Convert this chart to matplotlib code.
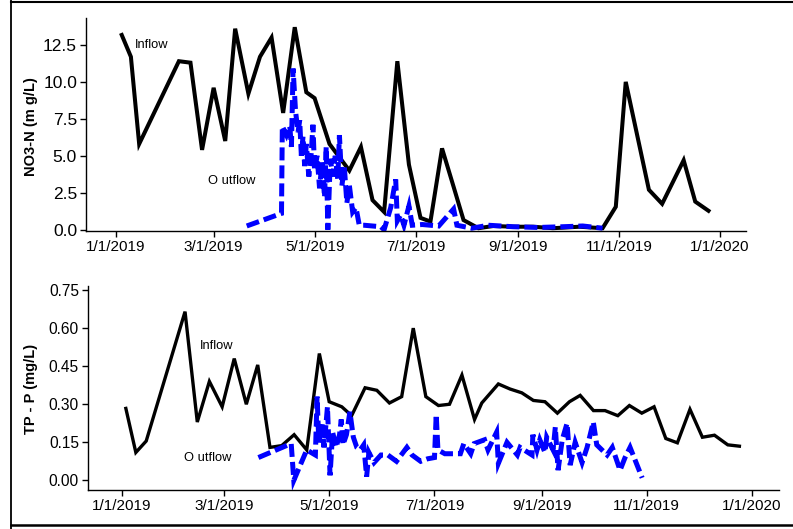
import numpy as np
import pandas as pd
import matplotlib
matplotlib.use("Agg")
import matplotlib.pyplot as plt
from matplotlib.lines import Line2D

# ---------------- data ----------------
start = pd.Timestamp("2019-01-01")

tick_dates = ["2019-01-01", "2019-03-01", "2019-05-01", "2019-07-01",
              "2019-09-01", "2019-11-01", "2020-01-01"]
tick_labels = ["1/1/2019", "3/1/2019", "5/1/2019", "7/1/2019",
               "9/1/2019", "11/1/2019", "1/1/2020"]

# NO3-N inflow (days since 1/1/2019, mg/L)
no3_in_days = [3, 9, 14, 38, 45, 52, 59, 66, 72, 80, 87, 94, 101, 108, 115, 120,
               129, 141, 148, 155, 162, 170, 177, 184, 190, 197, 204, 210, 219,
               228, 240, 252, 264, 280, 294, 302, 308, 322, 330, 343, 350, 359]
no3_in_vals = [13.3, 11.7, 5.8, 11.4, 11.3, 5.4, 9.6, 6.0, 13.6, 9.2, 11.7, 13.0,
               7.9, 13.7, 9.3, 8.9, 5.8, 4.0, 5.6, 2.0, 1.2, 11.4, 4.4, 0.8, 0.55,
               5.5, 2.9, 0.65, 0.1, 0.25, 0.2, 0.2, 0.1, 0.2, 0.1, 1.55, 10.0, 2.7,
               1.75, 4.7, 1.9, 1.2]

# NO3-N outflow
no3_out_days = [79, 100, 100.5, 103, 105, 106, 107, 108.5, 110, 111, 112, 113, 114,
                115, 116.5, 118, 119, 120, 121.5, 123, 124.5, 126, 127, 128, 129.5,
                131, 132.5, 134, 135, 136.5, 138, 139.5, 141, 143, 145, 147, 150,
                155, 160, 162, 166, 169, 170, 172, 174, 177, 179, 185, 195, 204,
                206, 215, 225, 240, 255, 270, 282, 294]
no3_out_vals = [0.25, 1.1, 7.0, 6.4, 7.0, 5.6, 10.9, 8.0, 6.6, 7.4, 5.0, 6.3, 4.3,
                5.8, 3.6, 5.2, 7.1, 4.0, 5.0, 2.8, 4.6, 2.2, 5.6, 0.0, 4.8,
                3.6, 5.0, 3.4, 6.4, 3.0, 4.2, 1.8, 3.0, 1.2, 1.5, 0.3, 0.3,
                0.25, 0.2, 0.0, 1.5, 3.4, 0.6, 1.0, 0.3, 1.6, 0.3, 0.35, 0.25, 1.4,
                0.3, 0.1, 0.3, 0.2, 0.15, 0.2, 0.25, 0.1]

# TP-P inflow
tp_in_days = [2, 8, 14, 36.5, 43.6, 50.6, 58, 65, 72, 78.6, 85.7, 92.5, 99.7, 107,
              114.3, 120, 127.3, 133, 140.8, 147.6, 154.9, 162, 168.7, 176, 183.3,
              189.7, 196.9, 204.2, 208.4, 218, 224.8, 231.6, 238.3, 245, 252.2,
              259.2, 265.4, 273.1, 279.8, 287.2, 293.9, 301.1, 308.2, 315, 321.7,
              329, 336.2, 343.2, 350.9, 358.6]
tp_in_vals = [0.29, 0.11, 0.155, 0.665, 0.23, 0.39, 0.29, 0.48, 0.30, 0.455, 0.13,
              0.137, 0.18, 0.12, 0.50, 0.31, 0.29, 0.255, 0.365, 0.355, 0.305, 0.33,
              0.60, 0.33, 0.295, 0.30, 0.415, 0.24, 0.305, 0.38, 0.36, 0.345, 0.315,
              0.31, 0.265, 0.31, 0.335, 0.275, 0.275, 0.255, 0.295, 0.265, 0.29,
              0.165, 0.148, 0.28, 0.17, 0.178, 0.14, 0.134]

# TP-P outflow
tp_out_days = [79, 98, 99.5, 107, 112, 113, 114, 116, 117, 119, 120.5, 122, 124,
               126, 127, 128, 130, 132, 134, 136, 138, 140, 141.7, 143, 146, 150,
               154, 159, 165, 168, 173, 177, 181, 182, 183, 187, 196, 198, 202, 204,
               210, 212, 217, 218, 223, 229, 230.6, 237.5, 238, 240.4, 242, 245,
               246, 249.7, 251, 252.6, 255, 257.8, 259.6, 262.5, 266.5, 269.4, 273,
               275, 281, 284, 288.5, 291.4, 294.3, 301.3]
tp_out_vals = [0.09, 0.145, 0.0, 0.12, 0.10, 0.33, 0.15, 0.22, 0.13, 0.29, 0.02,
               0.19, 0.13, 0.18, 0.24, 0.14, 0.18, 0.27, 0.17, 0.13, 0.12, 0.14,
               0.015, 0.11, 0.07, 0.10, 0.10, 0.075, 0.13, 0.10, 0.075, 0.085, 0.09,
               0.26, 0.12, 0.105, 0.105, 0.145, 0.105, 0.145, 0.16, 0.12, 0.19,
               0.067, 0.15, 0.10, 0.13, 0.10, 0.18, 0.12, 0.16, 0.11, 0.17, 0.12,
               0.21, 0.04, 0.16, 0.225, 0.06, 0.15, 0.07, 0.13, 0.23, 0.14, 0.10,
               0.13, 0.04, 0.09, 0.13, 0.01]


def to_dates(days):
    return start + pd.to_timedelta(np.asarray(days, dtype=float), unit="D")


plt.rcParams["font.family"] = ["Liberation Sans", "DejaVu Sans"]

fig = plt.figure(figsize=(7.93, 5.29), dpi=100)

ax1 = fig.add_axes([0.1085, 0.5633, 0.8323, 0.4026])
ax2 = fig.add_axes([0.1110, 0.0737, 0.8714, 0.3856])

black_kw = dict(color="black", solid_joinstyle="miter", solid_capstyle="butt")
blue_kw = dict(color="#0000ff", linestyle=(0, (2.6, 1.0)), dash_joinstyle="miter",
               dash_capstyle="butt")

ax1.plot(to_dates(no3_in_days), no3_in_vals, lw=2.9, **black_kw)
ax1.plot(to_dates(no3_out_days), no3_out_vals, lw=3.6, **blue_kw)

ax2.plot(to_dates(tp_in_days), tp_in_vals, lw=2.4, **black_kw)
ax2.plot(to_dates(tp_out_days), tp_out_vals, lw=3.6, **blue_kw)

ax1.set_xlim(to_dates([-18.1])[0], to_dates([380.7])[0])
ax1.set_ylim(-0.09, 14.32)
ax2.set_xlim(to_dates([-19.7])[0], to_dates([380.6])[0])
ax2.set_ylim(-0.038, 0.766)

ax1.set_yticks([0.0, 2.5, 5.0, 7.5, 10.0, 12.5])
ax1.set_yticklabels(["0.0", "2.5", "5.0", "7.5", "10.0", "12.5"])
ax2.set_yticks([0.0, 0.15, 0.30, 0.45, 0.60, 0.75])
ax2.set_yticklabels(["0.00", "0.15", "0.30", "0.45", "0.60", "0.75"])

for ax in (ax1, ax2):
    ax.set_xticks(pd.to_datetime(tick_dates))
    ax.set_xticklabels(tick_labels)
    for s in ("top", "right"):
        ax.spines[s].set_visible(False)
    for s in ("left", "bottom"):
        ax.spines[s].set_linewidth(1.0)
        ax.spines[s].set_color("black")
    ax.tick_params(axis="both", direction="out", length=4, width=1.0,
                   pad=2.5, colors="black")
    ax.tick_params(axis="x", labelsize=11)

ax1.tick_params(axis="y", labelsize=12.5)
ax2.tick_params(axis="y", labelsize=11.2)

ax1.set_ylabel("NO3-N (m g/L)", fontsize=10.5, fontweight="bold")
ax1.yaxis.set_label_coords(-0.073, 0.49)
ax2.set_ylabel("TP - P (mg/L)", fontsize=10.5, fontweight="bold")
ax2.yaxis.set_label_coords(-0.072, 0.495)

ax1.text(0.0742, 0.873, "Inflow", transform=ax1.transAxes, fontsize=9.3,
         va="center", ha="left")
ax1.text(0.185, 0.235, "O utflow", transform=ax1.transAxes, fontsize=9.3,
         va="center", ha="left")
ax2.text(0.162, 0.707, "Inflow", transform=ax2.transAxes, fontsize=9.3,
         va="center", ha="left")
ax2.text(0.139, 0.158, "O utflow", transform=ax2.transAxes, fontsize=9.3,
         va="center", ha="left")

# outer frame lines
x0 = 11 / 793
ytop = 1 - 2 / 529
ybot = 1 - 525 / 529
fig.add_artist(Line2D([x0, x0], [0, 1], transform=fig.transFigure,
                      color="black", lw=1.3))
fig.add_artist(Line2D([x0, 1], [ytop, ytop], transform=fig.transFigure,
                      color="black", lw=1.5))
fig.add_artist(Line2D([x0, 1], [ybot, ybot], transform=fig.transFigure,
                      color="black", lw=1.8))

fig.savefig("out.png", dpi=100)
